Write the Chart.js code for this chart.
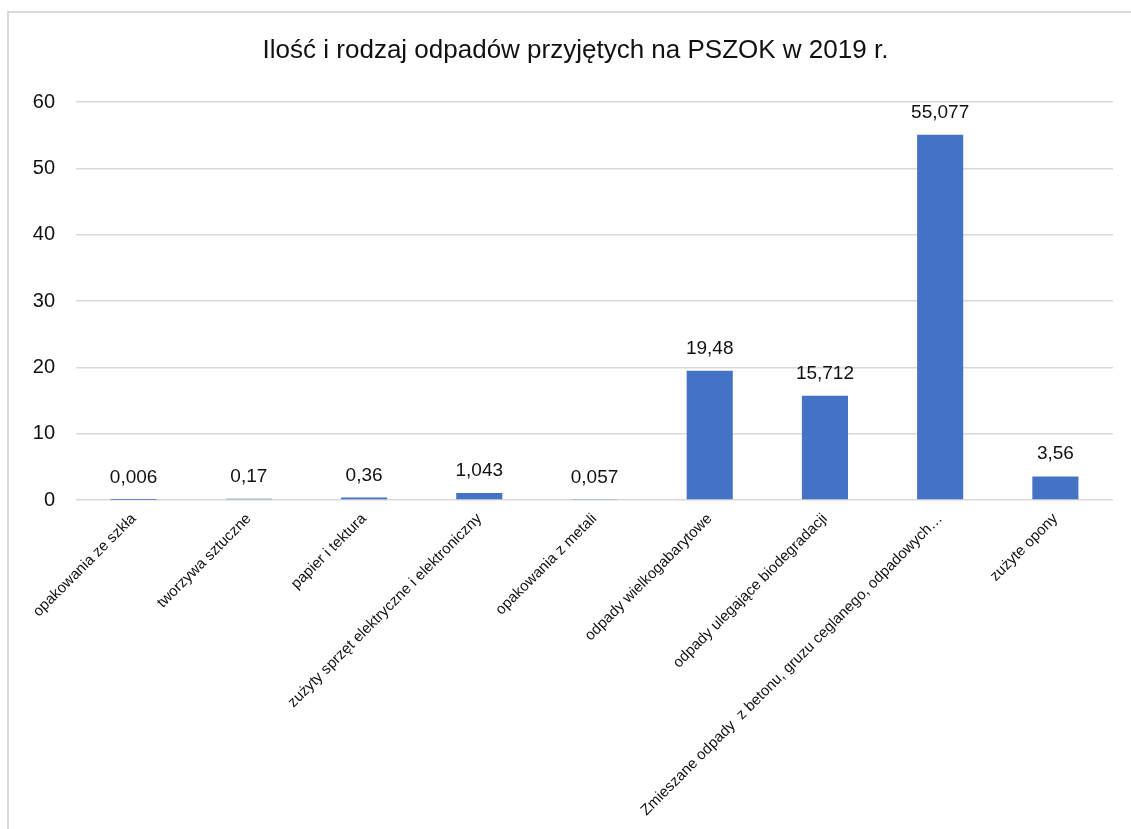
<!DOCTYPE html>
<html>
<head>
<meta charset="utf-8">
<script src="https://cdn.jsdelivr.net/npm/chart.js@4/dist/chart.umd.min.js"></script>
<style>
  html, body { margin: 0; padding: 0; background: #fff; }
  #wrap { position: relative; width: 1131px; height: 829px; overflow: hidden; }
  #frame { position: absolute; left: 7px; top: 11px; right: -5px; bottom: -5px;
           border-left: 2px solid #d9d9d9; border-top: 2px solid #d9d9d9; }
  canvas { position: absolute; left: 0; top: 0; }
</style>
</head>
<body>
<div id="wrap">
  <div id="frame"></div>
  <canvas id="c" width="1131" height="829"></canvas>
</div>
<script>
const titleText = 'Ilość i rodzaj odpadów przyjętych na PSZOK w 2019 r.';
const categories = [
  'opakowania ze szkła',
  'tworzywa sztuczne',
  'papier i tektura',
  'zużyty sprzęt elektryczne i elektroniczny',
  'opakowania z metali',
  'odpady wielkogabarytowe',
  'odpady ulegające biodegradacji',
  'Zmieszane odpady  z betonu, gruzu ceglanego, odpadowych…',
  'zużyte opony'
];
const values = [0.006, 0.17, 0.36, 1.043, 0.057, 19.48, 15.712, 55.077, 3.56];
const yTicks = [0, 10, 20, 30, 40, 50, 60];

const FONT = "'Liberation Sans Narrow', 'Arial Narrow', 'Liberation Sans', Arial, sans-serif";

const valueLabels = {
  id: 'valueLabels',
  afterDatasetsDraw(chart) {
    const ctx = chart.ctx;
    const meta = chart.getDatasetMeta(0);
    ctx.save();
    ctx.font = '19px ' + FONT;
    ctx.fillStyle = '#111';
    ctx.textAlign = 'center';
    ctx.textBaseline = 'alphabetic';
    meta.data.forEach((el, i) => {
      const txt = String(values[i]).replace('.', ',');
      ctx.fillText(txt, el.x, el.y - 17);
    });
    ctx.restore();
  }
};

// Center the title over the frame rather than the padded canvas
const titleShift = {
  id: 'titleShift',
  afterLayout(chart) {
    if (chart.titleBlock) chart.titleBlock.left += 38;
  }
};

new Chart(document.getElementById('c'), {
  type: 'bar',
  data: {
    labels: categories,
    datasets: [{
      data: values,
      backgroundColor: '#4472C4',
      borderWidth: 0,
      barPercentage: 0.4,
      categoryPercentage: 1.0
    }]
  },
  options: {
    responsive: false,
    animation: false,
    layout: { padding: { left: 0, right: 18, top: 0, bottom: 0 } },
    plugins: {
      legend: { display: false },
      tooltip: { enabled: false },
      title: {
        display: true,
        text: titleText,
        color: '#111',
        font: { family: FONT, size: 26, weight: 'normal' },
        padding: { top: 35, bottom: 36 }
      }
    },
    scales: {
      x: {
        grid: { display: false },
        border: { display: false },
        ticks: {
          autoSkip: false,
          minRotation: 45,
          maxRotation: 45,
          color: '#111',
          font: { family: FONT, size: 15 },
          padding: 2
        },
        afterFit(scale) { scale.height = 329; }
      },
      y: {
        min: 0,
        max: 60,
        afterBuildTicks(scale) { scale.ticks = yTicks.map(v => ({ value: v })); },
        grid: { color: '#d9d9d9', lineWidth: 1.5, drawTicks: false },
        border: { display: false },
        ticks: {
          color: '#111',
          font: { family: FONT, size: 20 },
          padding: 21
        },
        afterFit(scale) { scale.width = 76; }
      }
    }
  },
  plugins: [valueLabels, titleShift]
});
</script>
</body>
</html>
